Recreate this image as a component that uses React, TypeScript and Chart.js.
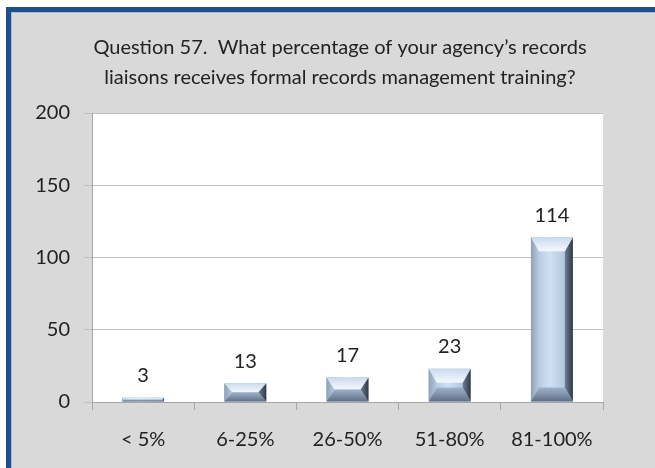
import React, { useEffect, useRef } from "react";
import { Chart, registerables } from "chart.js";

Chart.register(...registerables);

const categories = ["< 5%", "6-25%", "26-50%", "51-80%", "81-100%"];
const values = [3, 13, 17, 23, 114];
const yTickValues = [0, 50, 100, 150, 200];
const titleLines = [
  "Question 57.  What percentage of your agency\u2019s records",
  "liaisons receives formal records management training?",
];

const FONT = "Lato, 'Open Sans', sans-serif";
const TEXT = "#222222";

const plotBackground = {
  id: "plotBackground",
  beforeDraw(chart: any) {
    const { ctx, chartArea } = chart;
    ctx.save();
    ctx.fillStyle = "#ffffff";
    ctx.fillRect(chartArea.left, chartArea.top, chartArea.right - chartArea.left, chartArea.bottom - chartArea.top);
    ctx.restore();
  },
};

const chartTitle = {
  id: "chartTitle",
  afterDraw(chart: any) {
    const { ctx } = chart;
    ctx.save();
    ctx.font = `20px ${FONT}`;
    ctx.fillStyle = TEXT;
    ctx.textAlign = "center";
    ctx.textBaseline = "middle";
    titleLines.forEach((line, i) => {
      ctx.fillText(line, 340, 48 + i * 30);
    });
    ctx.restore();
  },
};

const bevelBars = {
  id: "bevelBars",
  afterDatasetsDraw(chart: any) {
    const { ctx } = chart;
    const meta = chart.getDatasetMeta(0);
    meta.data.forEach((el: any) => {
      const { x, y, base, width } = el.getProps(["x", "y", "base", "width"], true);
      const l = x - width / 2;
      const r = x + width / 2;
      const t = Math.min(y, base);
      const b = Math.max(y, base);
      const h = b - t;
      const bs = Math.min(8, width / 2, h / 2);
      const bv = Math.min(14, h / 2);
      ctx.save();
      const fg = ctx.createLinearGradient(l, 0, r, 0);
      fg.addColorStop(0, "#a9bdd6");
      fg.addColorStop(0.45, "#cfe0f5");
      fg.addColorStop(1, "#a6b9d1");
      ctx.fillStyle = fg;
      ctx.fillRect(l, t, width, h);
      // left bevel
      ctx.beginPath();
      ctx.moveTo(l, t);
      ctx.lineTo(l + bs, t + bv);
      ctx.lineTo(l + bs, b - bv);
      ctx.lineTo(l, b);
      ctx.closePath();
      const lg = ctx.createLinearGradient(l, 0, l + bs, 0);
      lg.addColorStop(0, "#8e9fb6");
      lg.addColorStop(1, "#b9cbe2");
      ctx.fillStyle = lg;
      ctx.fill();
      // right bevel
      ctx.beginPath();
      ctx.moveTo(r, t);
      ctx.lineTo(r - bs, t + bv);
      ctx.lineTo(r - bs, b - bv);
      ctx.lineTo(r, b);
      ctx.closePath();
      const rg = ctx.createLinearGradient(r - bs, 0, r, 0);
      rg.addColorStop(0, "#6f7f95");
      rg.addColorStop(1, "#2f3845");
      ctx.fillStyle = rg;
      ctx.fill();
      // top bevel
      ctx.beginPath();
      ctx.moveTo(l, t);
      ctx.lineTo(r, t);
      ctx.lineTo(r - bs, t + bv);
      ctx.lineTo(l + bs, t + bv);
      ctx.closePath();
      const tg = ctx.createLinearGradient(0, t, 0, t + bv);
      tg.addColorStop(0, "#c9daee");
      tg.addColorStop(1, "#f4f9ff");
      ctx.fillStyle = tg;
      ctx.fill();
      // bottom bevel
      ctx.beginPath();
      ctx.moveTo(l, b);
      ctx.lineTo(r, b);
      ctx.lineTo(r - bs, b - bv);
      ctx.lineTo(l + bs, b - bv);
      ctx.closePath();
      const bg = ctx.createLinearGradient(0, b - bv, 0, b);
      bg.addColorStop(0, "#9fb2ca");
      bg.addColorStop(1, "#5f6f85");
      ctx.fillStyle = bg;
      ctx.fill();
      ctx.restore();
    });
  },
};

const valueLabels = {
  id: "valueLabels",
  afterDatasetsDraw(chart: any) {
    const { ctx } = chart;
    const meta = chart.getDatasetMeta(0);
    ctx.save();
    ctx.font = `20px ${FONT}`;
    ctx.fillStyle = TEXT;
    ctx.textAlign = "center";
    ctx.textBaseline = "middle";
    meta.data.forEach((el: any, i: number) => {
      const { x, y } = el.getProps(["x", "y"], true);
      ctx.fillText(String(values[i]), x, y - 22);
    });
    ctx.restore();
  },
};

export default function App() {
  const ref = useRef<HTMLCanvasElement | null>(null);

  useEffect(() => {
    document.body.style.margin = "0";
    const canvas = ref.current;
    if (!canvas) return;
    const chart = new Chart(canvas, {
      type: "bar",
      data: {
        labels: categories,
        datasets: [
          {
            data: values,
            backgroundColor: "#c6d9f0",
            borderWidth: 0,
            barPercentage: 0.41,
            categoryPercentage: 1,
          },
        ],
      },
      options: {
        animation: false,
        responsive: false,
        devicePixelRatio: 1,
        layout: { autoPadding: false, padding: { left: 12, right: 52, top: 113, bottom: 0 } },
        plugins: {
          legend: { display: false },
          tooltip: { enabled: false },
          title: { display: false },
        },
        scales: {
          x: {
            grid: { drawOnChartArea: false, drawTicks: true, tickLength: 8, color: "#a6a6a6", offset: true },
            border: { color: "#a6a6a6" },
            ticks: { font: { family: FONT, size: 20 }, color: TEXT, padding: 18 },
            afterFit: (s: any) => {
              s.height = 66;
            },
          },
          y: {
            min: 0,
            max: 200,
            afterBuildTicks: (s: any) => {
              s.ticks = yTickValues.map((v) => ({ value: v }));
            },
            grid: { color: "#bfbfbf", tickLength: 8 },
            border: { color: "#a6a6a6" },
            ticks: { font: { family: FONT, size: 20 }, color: TEXT, padding: 14 },
            afterFit: (s: any) => {
              s.width = 80;
            },
          },
        },
      },
      plugins: [plotBackground, bevelBars, valueLabels, chartTitle],
    });
    return () => chart.destroy();
  }, []);

  return (
    <div style={{ position: "relative", width: 655, height: 468, overflow: "hidden", background: "#ffffff" }}>
      <div
        style={{
          position: "absolute",
          left: 6,
          top: 7,
          width: 680,
          height: 480,
          background: "#d9d9d9",
          borderTop: "5px solid #1f4e8c",
          borderLeft: "5px solid #1f4e8c",
          boxShadow: "inset 1px 1px 0 #a8bad3",
        }}
      />
      <canvas ref={ref} width={655} height={468} style={{ position: "absolute", left: 0, top: 0, width: 655, height: 468 }} />
    </div>
  );
}
